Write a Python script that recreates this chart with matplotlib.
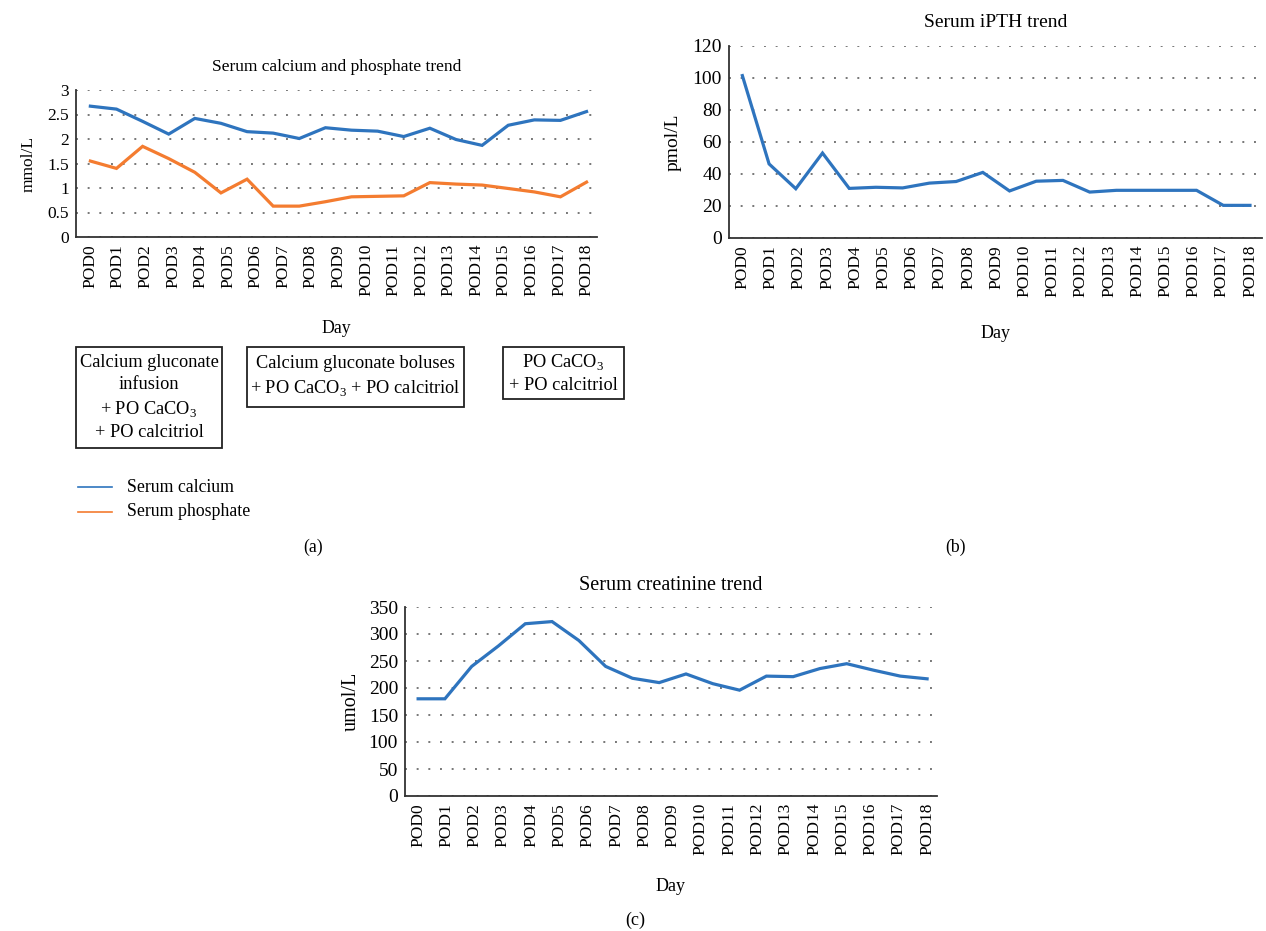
import numpy as np
import matplotlib
matplotlib.use("Agg")
import matplotlib.pyplot as plt
from matplotlib.patches import Rectangle

plt.rcParams['font.family'] = ['Liberation Serif', 'DejaVu Serif']
plt.rcParams['mathtext.fontset'] = 'custom'
plt.rcParams['mathtext.rm'] = 'Liberation Serif'

# ---------------- data ----------------
pod_labels = [f"POD{i}" for i in range(19)]

calcium = [2.67, 2.61, 2.36, 2.10, 2.42, 2.32, 2.15, 2.12, 2.01, 2.23,
           2.18, 2.16, 2.05, 2.22, 1.99, 1.87, 2.28, 2.39, 2.38, 2.56]
phosphate = [1.55, 1.40, 1.85, 1.60, 1.32, 0.90, 1.18, 0.63, 0.63, 0.72,
             0.82, 0.83, 0.84, 1.11, 1.08, 1.06, 0.99, 0.92, 0.82, 1.12]
ipth = [101.5, 46.3, 30.8, 53.1, 31.0, 31.7, 31.3, 34.3, 35.3, 41.0,
        29.4, 35.5, 36.0, 28.7, 29.8, 29.8, 29.8, 29.8, 20.4, 20.4]
creatinine = [180, 180, 240, 278, 319, 323, 288, 240, 218, 210,
              226, 208, 196, 222, 221, 236, 245, 233, 222, 217]

box_texts = ["Calcium gluconate\ninfusion\n+ PO CaCO$_3$\n+ PO calcitriol",
             "Calcium gluconate boluses\n+ PO CaCO$_3$ + PO calcitriol",
             "PO CaCO$_3$\n+ PO calcitriol"]

BLUE = '#2E74BE'
ORANGE = '#F47C30'
W, H = 1266, 931

fig = plt.figure(figsize=(W / 100, H / 100), dpi=100)


def axes_px(l, t, r, b):
    return fig.add_axes([l / W, 1 - b / H, (r - l) / W, (b - t) / H])


def style(ax, ylim, yticks, xlim, ytfs):
    n = len(calcium)
    ax.set_xlim(*xlim)
    ax.set_ylim(*ylim)
    ax.set_yticks(yticks)
    ax.set_yticklabels([f"{v:g}" for v in yticks], fontsize=ytfs)
    ax.set_xticks(np.linspace(0, n - 1, len(pod_labels)))
    ax.set_xticklabels(pod_labels, rotation=90, fontsize=12.5)
    ax.tick_params(length=0, pad=5)
    for s in ['top', 'right']:
        ax.spines[s].set_visible(False)
    for s in ['left', 'bottom']:
        ax.spines[s].set_color('#333333')
        ax.spines[s].set_linewidth(1.3)
    ax.yaxis.grid(True, linestyle=(0, (1, 5)), color='#777777', linewidth=1.4)
    ax.set_axisbelow(True)


x = np.arange(len(calcium))

# ---------------- panel (a) ----------------
axa = axes_px(76, 90, 597, 237)
axa.plot(x, calcium, color=BLUE, lw=2.3, solid_joinstyle='miter')
axa.plot(x, phosphate, color=ORANGE, lw=2.3, solid_joinstyle='miter')
style(axa, (0, 3), [0, 0.5, 1, 1.5, 2, 2.5, 3], (-0.55, 19.4), 12.5)
axa.set_title("Serum calcium and phosphate trend", fontsize=12.5, pad=14)
axa.set_ylabel("mmol/L", fontsize=12.5, labelpad=8)
axa.set_xlabel("Day", fontsize=12.8, labelpad=17)

# treatment boxes (pixel rectangles: left, top, right, bottom)
box_rects = [(76, 347, 222, 448), (247, 347, 464, 407), (503, 347, 624, 399)]
for (l, t, r, b), txt in zip(box_rects, box_texts):
    fig.add_artist(Rectangle((l / W, 1 - b / H), (r - l) / W, (b - t) / H,
                             transform=fig.transFigure, fill=False,
                             ec='#222222', lw=1.3))
    fig.text((l + r) / 2 / W, 1 - (t + b) / 2 / H, txt, ha='center', va='center',
             fontsize=13.2, linespacing=1.4)

# legend
for yy, c, lab in [(487, BLUE, "Serum calcium"), (512, ORANGE, "Serum phosphate")]:
    fig.add_artist(plt.Line2D([78 / W, 112 / W], [1 - yy / H, 1 - yy / H], color=c, lw=1.2))
    fig.text(127 / W, 1 - yy / H, lab, ha='left', va='center', fontsize=12.8)

fig.text(313 / W, 1 - 547 / H, "(a)", ha='center', va='center', fontsize=12.8)

# ---------------- panel (b) ----------------
axb = axes_px(729, 46, 1262, 238)
axb.plot(x, ipth, color=BLUE, lw=2.3, solid_joinstyle='miter')
style(axb, (0, 120), [0, 20, 40, 60, 80, 100, 120], (-0.5, 19.45), 14)
axb.set_title("Serum iPTH trend", fontsize=14, pad=14)
axb.set_ylabel("pmol/L", fontsize=14, labelpad=8)
axb.set_xlabel("Day", fontsize=13, labelpad=20)
fig.text(955 / W, 1 - 547 / H, "(b)", ha='center', va='center', fontsize=12.8)

# ---------------- panel (c) ----------------
axc = axes_px(405, 607, 937, 796)
axc.plot(x, creatinine, color=BLUE, lw=2.3, solid_joinstyle='miter')
style(axc, (0, 350), [0, 50, 100, 150, 200, 250, 300, 350], (-0.49, 19.37), 14)
axc.set_title("Serum creatinine trend", fontsize=14.5, pad=12)
axc.set_ylabel("umol/L", fontsize=14.5, labelpad=6)
axc.set_xlabel("Day", fontsize=13, labelpad=16)
fig.text(635 / W, 1 - 920 / H, "(c)", ha='center', va='center', fontsize=13)

fig.savefig("out.png", dpi=100, facecolor='white')
